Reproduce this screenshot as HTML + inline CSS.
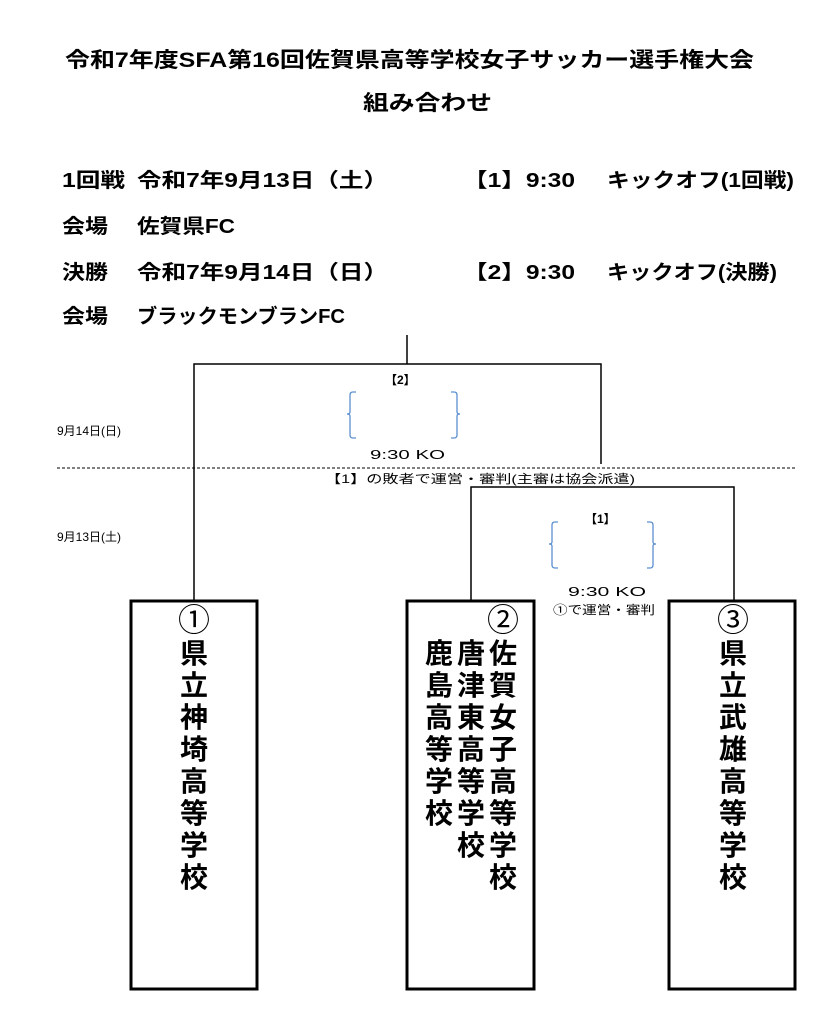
<!DOCTYPE html>
<html><head><meta charset="utf-8"><style>
html,body{margin:0;padding:0;background:#fff;}
svg{display:block;}
text{font-family:"Liberation Sans","Noto Sans CJK JP",sans-serif;fill:#000;}
.b{font-weight:bold;}
</style></head><body>
<svg width="817" height="1024" viewBox="0 0 817 1024" xmlns="http://www.w3.org/2000/svg">
<g class="b" font-size="21">
<text x="65" y="67" textLength="689" lengthAdjust="spacingAndGlyphs" class="b">令和7年度SFA第16回佐賀県高等学校女子サッカー選手権大会</text>
<text x="363" y="110" textLength="129" lengthAdjust="spacingAndGlyphs" class="b">組み合わせ</text>
</g>
<g font-size="20">
<text class="b" x="62" y="187" textLength="63" lengthAdjust="spacingAndGlyphs">1回戦</text>
<text class="b" x="137" y="187" textLength="251" lengthAdjust="spacingAndGlyphs">令和7年9月13日（土）</text>
<text class="b" x="463" y="187" textLength="112" lengthAdjust="spacingAndGlyphs">【1】9:30</text>
<text class="b" x="607" y="187" textLength="187" lengthAdjust="spacingAndGlyphs">キックオフ(1回戦)</text>
<text class="b" x="62" y="233" textLength="46" lengthAdjust="spacingAndGlyphs">会場</text>
<text class="b" x="137" y="233" textLength="98" lengthAdjust="spacingAndGlyphs">佐賀県FC</text>
<text class="b" x="62" y="279" textLength="46" lengthAdjust="spacingAndGlyphs">決勝</text>
<text class="b" x="137" y="279" textLength="251" lengthAdjust="spacingAndGlyphs">令和7年9月14日（日）</text>
<text class="b" x="463" y="279" textLength="112" lengthAdjust="spacingAndGlyphs">【2】9:30</text>
<text class="b" x="607" y="279" textLength="170" lengthAdjust="spacingAndGlyphs">キックオフ(決勝)</text>
<text class="b" x="62" y="323" textLength="46" lengthAdjust="spacingAndGlyphs">会場</text>
<text class="b" x="137" y="323" textLength="208" lengthAdjust="spacingAndGlyphs">ブラックモンブランFC</text>
</g>
<g stroke="#000" stroke-width="1.5" fill="none">
<line x1="407" y1="335" x2="407" y2="364"/>
<polyline points="194,600 194,364 601,364 601,464"/>
<polyline points="471,600 471,487 734,487 734,600"/>
</g>
<line x1="57" y1="468" x2="797" y2="468" stroke="#000" stroke-width="1" stroke-dasharray="3,2"/>
<g stroke="#5b8fd0" stroke-width="1.3" fill="none">
<path d="M356,392 h-3 q-3,0 -3,3 v17 q0,2 -3,2 q3,0 3,2 v19 q0,3 3,3 h3"/>
<path d="M451,392 h3 q3,0 3,3 v17 q0,2 3,2 q-3,0 -3,2 v19 q0,3 -3,3 h-3"/>
<path d="M558,522 h-3 q-3,0 -3,3 v17 q0,2 -3,2 q3,0 3,2 v19 q0,3 3,3 h3"/>
<path d="M647,522 h3 q3,0 3,3 v17 q0,2 3,2 q-3,0 -3,2 v19 q0,3 -3,3 h-3"/>
</g>
<g font-size="12">
<text x="57" y="435">9月14日(日)</text>
<text x="57" y="541">9月13日(土)</text>
<text x="385" y="384" class="b">【2】</text>
<text x="370" y="459" font-size="13" textLength="75" lengthAdjust="spacingAndGlyphs">9:30  KO</text>
<text x="325" y="483" textLength="310" lengthAdjust="spacingAndGlyphs">【1】の敗者で運営・審判(主審は協会派遣)</text>
<text x="585" y="523" class="b">【1】</text>
<text x="568" y="596" font-size="13" textLength="78" lengthAdjust="spacingAndGlyphs">9:30  KO</text>
<text x="553" y="614" textLength="102" lengthAdjust="spacingAndGlyphs">①で運営・審判</text>
</g>
<g stroke="#000" stroke-width="3" fill="#fff">
<rect x="131" y="601" width="126" height="388"/>
<rect x="407" y="601" width="127" height="388"/>
<rect x="669" y="601" width="126" height="388"/>
</g>
<g font-size="32" text-anchor="middle">
<text x="194" y="631">①</text>
<text x="503" y="631">②</text>
<text x="733" y="631">③</text>
</g>
<g font-size="28" class="b" text-anchor="middle">
<text class="b" x="194" y="663">県</text><text class="b" x="194" y="695">立</text><text class="b" x="194" y="727">神</text><text class="b" x="194" y="759">埼</text><text class="b" x="194" y="791">高</text><text class="b" x="194" y="823">等</text><text class="b" x="194" y="855">学</text><text class="b" x="194" y="887">校</text>
<text class="b" x="503" y="663">佐</text><text class="b" x="503" y="695">賀</text><text class="b" x="503" y="727">女</text><text class="b" x="503" y="759">子</text><text class="b" x="503" y="791">高</text><text class="b" x="503" y="823">等</text><text class="b" x="503" y="855">学</text><text class="b" x="503" y="887">校</text>
<text class="b" x="471" y="663">唐</text><text class="b" x="471" y="695">津</text><text class="b" x="471" y="727">東</text><text class="b" x="471" y="759">高</text><text class="b" x="471" y="791">等</text><text class="b" x="471" y="823">学</text><text class="b" x="471" y="855">校</text>
<text class="b" x="439" y="663">鹿</text><text class="b" x="439" y="695">島</text><text class="b" x="439" y="727">高</text><text class="b" x="439" y="759">等</text><text class="b" x="439" y="791">学</text><text class="b" x="439" y="823">校</text>
<text class="b" x="733" y="663">県</text><text class="b" x="733" y="695">立</text><text class="b" x="733" y="727">武</text><text class="b" x="733" y="759">雄</text><text class="b" x="733" y="791">高</text><text class="b" x="733" y="823">等</text><text class="b" x="733" y="855">学</text><text class="b" x="733" y="887">校</text>
</g>
</svg>
</body></html>
